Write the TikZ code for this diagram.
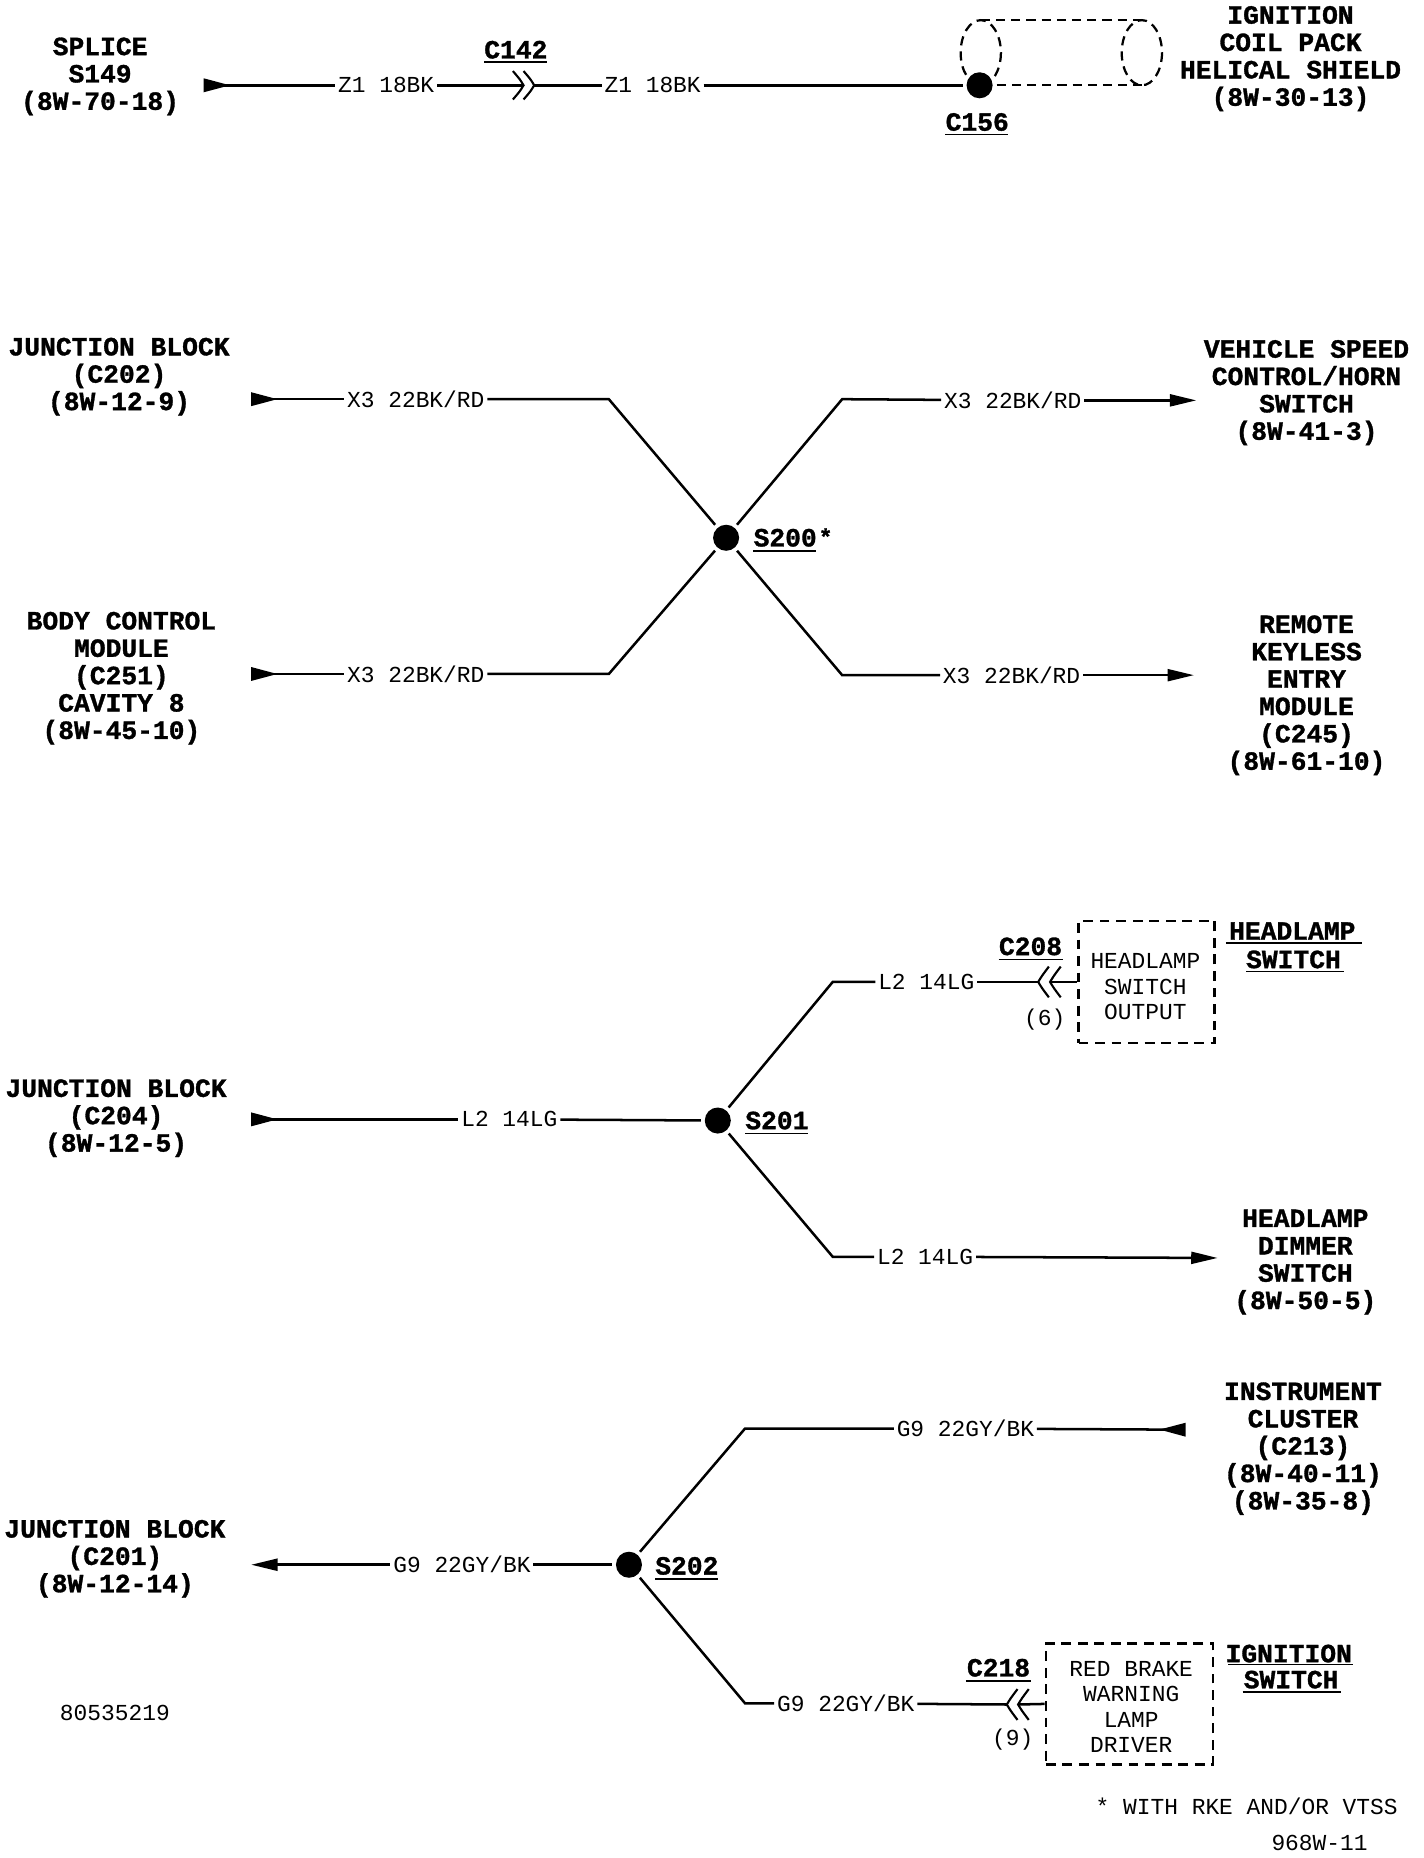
\documentclass[tikz,border=0pt]{standalone}
\usepackage{fontspec}
\setmonofont{Liberation Mono}[BoldFeatures={FakeBold=1.2}]
\usetikzlibrary{arrows.meta}
\tikzset{
 wirelabel/.style={font=\ttfamily\fontsize{17.3}{19}\selectfont,inner sep=2pt,anchor=center},
 smalltxt/.style={font=\ttfamily\fontsize{17.3}{19.2}\selectfont,inner sep=0pt,align=center},
 title/.style={font=\ttfamily\bfseries\fontsize{19.9}{20.7}\selectfont,inner sep=0pt,align=center},
 wire/.style={line width=1.9pt},
 tipout/.style={line width=1.9pt,-{Triangle[length=20pt,width=9pt]}},
 tipoutstart/.style={line width=1.9pt,{Triangle[length=20pt,width=9pt]}-},
 tipin/.style={line width=1.9pt,{Triangle[reversed,length=20pt,width=10pt]}-},
 tipinend/.style={line width=1.9pt,-{Triangle[reversed,length=20pt,width=10pt]}},
 dot/.style={circle,fill=black,inner sep=0pt,minimum size=19.7pt,outer sep=3pt},
 dashbox/.style={draw,line width=1.9pt,dash pattern=on 7.5pt off 5pt,inner sep=0pt},
 dashline/.style={line width=1.7pt,dash pattern=on 7pt off 4.5pt},
 plugline/.style={line width=1.6pt},
 uline/.style={line width=1.1pt},
 chevR/.pic={\draw[plugline] (-9,-12) .. controls (-3,-5) .. (0,0) .. controls (-3,5) .. (-9,12);},
 chevL/.pic={\draw[plugline] (9,-13) .. controls (3,-5) .. (0,0) .. controls (3,5) .. (9,13);}
}
\begin{document}
\begin{tikzpicture}[x=0.896pt,y=-0.896pt]
\useasboundingbox (0,0) rectangle (1202,1568.6);
% Row 1
\node[title] (t1) at (84.5,64.5) {SPLICE\\S149\\(8W-70-18)};
\coordinate (a1) at (172,72);
\node[wirelabel] (w1a) at (326,72) {Z1 18BK};
\node[wirelabel] (w1b) at (551,72) {Z1 18BK};
\coordinate (c1a) at (442,72);
\coordinate (c1b) at (451,72);
\node[dot] (d156) at (827,72) {};
\draw[tipin] (a1) -- (w1a);
\draw[wire] (w1a) -- (c1a);
\draw[wire] (c1b) -- (w1b);
\draw[wire] (w1b) -- (d156);
\pic at (c1a) {chevR};
\pic at (c1b) {chevR};
\node[title] (c142) at (435.5,42) {C142};
\draw[uline] (409,52.5) -- (462,52.5);
\node[title] (c156) at (825,103) {C156};
\draw[uline] (798,113.5) -- (851,113.5);
\coordinate (tubeA) at (828,17);
\coordinate (tubeB) at (964,17);
\coordinate (tubeC) at (964,72);
\draw[dashline] (tubeA) -- (tubeB);
\draw[dashline] (d156) -- (tubeC);
\draw[dashline] (828,44.5) ellipse (17 and 27.5);
\draw[dashline] (964,44.5) ellipse (17 and 27.5);
\node[title] (t2) at (1089.5,49.5) {IGNITION\\COIL PACK\\HELICAL SHIELD\\(8W-30-13)};
% Row 2
\node[title] (t3) at (100.5,318) {JUNCTION BLOCK\\(C202)\\(8W-12-9)};
\node[title] (t4) at (102.5,572.5) {BODY CONTROL\\MODULE\\(C251)\\CAVITY 8\\(8W-45-10)};
\node[title] (t5) at (1103,331.5) {VEHICLE SPEED\\CONTROL/HORN\\SWITCH\\(8W-41-3)};
\node[title] (t6) at (1103,587) {REMOTE\\KEYLESS\\ENTRY\\MODULE\\(C245)\\(8W-61-10)};
\coordinate (a2) at (212,337);
\coordinate (a3) at (212,569);
\coordinate (a4) at (1010,338);
\coordinate (a5) at (1008,570);
\node[dot] (s200) at (613,454) {};
\node[wirelabel] (w2a) at (351,337) {X3 22BK/RD};
\node[wirelabel] (w2b) at (351,569) {X3 22BK/RD};
\node[wirelabel] (w2c) at (855,338) {X3 22BK/RD};
\node[wirelabel] (w2d) at (854,570) {X3 22BK/RD};
\coordinate (b2a) at (514,337);
\coordinate (b2b) at (514,569);
\coordinate (b2c) at (711,337);
\coordinate (b2d) at (711,570);
\draw[tipin] (a2) -- (w2a);
\draw[tipin] (a3) -- (w2b);
\draw[wire] (w2a) -- (b2a) -- (s200);
\draw[wire] (w2b) -- (b2b) -- (s200);
\draw[wire] (s200) -- (b2c) -- (w2c);
\draw[wire] (s200) -- (b2d) -- (w2d);
\draw[tipout] (w2c) -- (a4);
\draw[tipout] (w2d) -- (a5);
\node[title,anchor=west] (s200l) at (636,454) {S200};
\draw[uline] (636,465) -- (689,465);
\node[smalltxt,anchor=west,font=\ttfamily\bfseries\fontsize{17.3}{19}\selectfont] (st) at (691,453) {*};
% Row 3
\node[title] (t7) at (98,944) {JUNCTION BLOCK\\(C204)\\(8W-12-5)};
\node[title] (t8) at (1102,1065.5) {HEADLAMP\\DIMMER\\SWITCH\\(8W-50-5)};
\node[dot] (s201) at (606,946) {};
\node[title,anchor=west] (s201l) at (629,946) {S201};
\draw[uline] (629,957) -- (682,957);
\coordinate (a6) at (212,945);
\coordinate (a7) at (1028,1062);
\node[wirelabel] (w3a) at (430,945) {L2 14LG};
\node[wirelabel] (w3b) at (782,829) {L2 14LG};
\node[wirelabel] (w3c) at (781,1061) {L2 14LG};
\coordinate (b3b) at (703,829);
\coordinate (b3c) at (703,1061);
\draw[tipin] (a6) -- (w3a);
\draw[wire] (w3a) -- (s201);
\draw[wire] (s201) -- (b3b) -- (w3b);
\draw[wire] (s201) -- (b3c) -- (w3c);
\draw[tipout] (w3c) -- (a7);
\node[dashbox,minimum width=103pt,minimum height=92.4pt] (bx1) at (968,829) {};
\node[smalltxt] (bx1t) at (967,833) {HEADLAMP\\SWITCH\\OUTPUT};
\coordinate (c2a) at (876.5,829);
\coordinate (c2b) at (886.5,829);
\draw[wire] (w3b) -- (c2a);
\draw[wire] (c2b) -- (bx1.west);
\pic at (c2a) {chevL};
\pic at (c2b) {chevL};
\node[smalltxt] (p6) at (882,861) {(6)};
\node[title] (c208) at (870,799) {C208};
\draw[uline] (843,810) -- (897,810);
\node[title] (hs1) at (1091,786) {HEADLAMP};
\node[title] (hs2) at (1092,810) {SWITCH};
\draw[uline] (1035,796) -- (1150,796);
\draw[uline] (1052,820) -- (1135,820);
% Row 4
\node[title] (t9) at (97,1316) {JUNCTION BLOCK\\(C201)\\(8W-12-14)};
\node[title] (t10) at (1100,1223) {INSTRUMENT\\CLUSTER\\(C213)\\(8W-40-11)\\(8W-35-8)};
\node[dot] (s202) at (531,1321) {};
\node[title,anchor=west] (s202l) at (553,1322) {S202};
\draw[uline] (553,1333) -- (606,1333);
\coordinate (a8) at (212,1321);
\coordinate (a9) at (1001,1207);
\node[wirelabel] (w4a) at (390,1321) {G9 22GY/BK};
\node[wirelabel] (w4b) at (815,1206) {G9 22GY/BK};
\node[wirelabel] (w4c) at (714,1438) {G9 22GY/BK};
\coordinate (b4b) at (629,1206);
\coordinate (b4c) at (629,1438);
\draw[tipoutstart] (a8) -- (w4a);
\draw[wire] (w4a) -- (s202);
\draw[wire] (s202) -- (b4b) -- (w4b);
\draw[wire] (s202) -- (b4c) -- (w4c);
\draw[tipinend] (w4b) -- (a9);
\node[dashbox,minimum width=126.3pt,minimum height=91.4pt] (bx2) at (953.5,1438.5) {};
\node[smalltxt] (bx2t) at (955,1441) {RED BRAKE\\WARNING\\LAMP\\DRIVER};
\coordinate (c3a) at (850,1439);
\coordinate (c3b) at (859.5,1439);
\draw[wire] (w4c) -- (c3a);
\draw[wire] (c3b) -- (bx2.west);
\pic at (c3a) {chevL};
\pic at (c3b) {chevL};
\node[smalltxt] (p9) at (855,1469) {(9)};
\node[title] (c218) at (843,1408) {C218};
\draw[uline] (815.5,1419) -- (870,1419);
\node[title] (is1) at (1088,1396) {IGNITION};
\node[title] (is2) at (1090,1418) {SWITCH};
\draw[uline] (1037,1405) -- (1142,1405);
\draw[uline] (1049,1428.5) -- (1132,1428.5);
% Footer
\node[smalltxt] (num) at (97,1446) {80535219};
\node[smalltxt] (note) at (1052.5,1525) {* WITH RKE AND/OR VTSS};
\node[smalltxt] (code) at (1114,1556) {968W-11};
\end{tikzpicture}
\end{document}
